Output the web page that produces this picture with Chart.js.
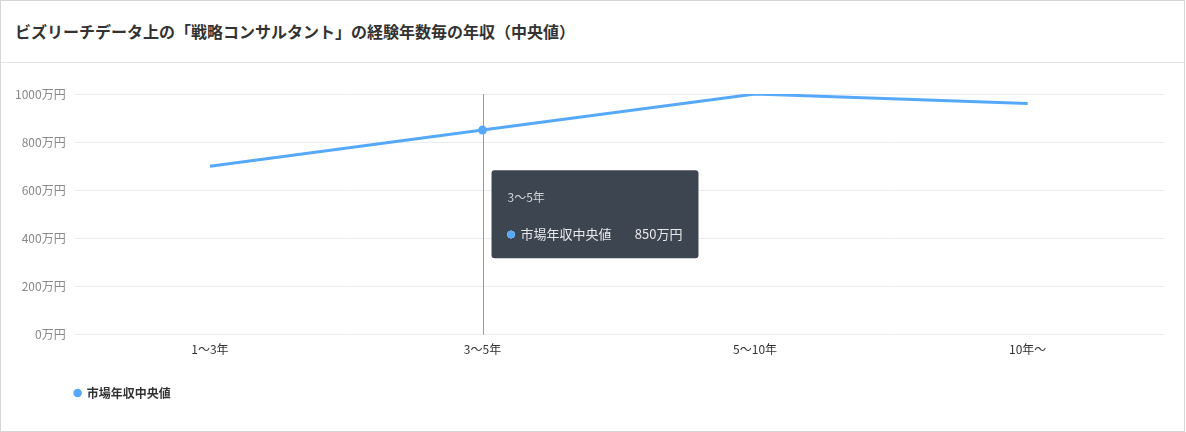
<!DOCTYPE html>
<html><head><meta charset="utf-8">
<script src="https://cdn.jsdelivr.net/npm/chart.js@4.4.0/dist/chart.umd.min.js"></script>
<style>
html,body{margin:0;padding:0;background:#fff;}
body{width:1186px;height:432px;overflow:hidden;font-family:"Noto Sans CJK JP","Noto Sans",sans-serif;}
#card{position:absolute;left:0;top:0;width:1183px;height:430px;border:1px solid #d6d6d6;box-sizing:content-box;background:#fff;}
#title{position:absolute;left:0;top:0;width:1183px;height:61px;border-bottom:1px solid #e3e3e3;}
#title h1{margin:0;position:absolute;left:14px;top:19px;font-size:16px;line-height:22px;font-weight:700;color:#333;}
#wrap{position:absolute;left:0;top:62px;width:1183px;height:368px;}
</style></head>
<body>
<div id="card">
  <div id="title"><h1>ビズリーチデータ上の「戦略コンサルタント」の経験年数毎の年収（中央値）</h1></div>
  <div id="wrap"><canvas id="c"></canvas></div>
</div>
<script>
const categories = ["1〜3年", "3〜5年", "5〜10年", "10年〜"];
const seriesName = "市場年収中央値";
const medianSalary = [700, 850, 1000, 960];
const yTicks = [0, 200, 400, 600, 800, 1000];
const unit = "万円";
const activeIndex = 1;

const FONT = '"Noto Sans CJK JP","Noto Sans",sans-serif';
Chart.defaults.font.family = FONT;

Chart.Tooltip.positioners.midRight = function(items) {
  if (!items.length) return false;
  const ca = this.chart.chartArea;
  return { x: items[0].element.x, y: (ca.top + ca.bottom) / 2, xAlign: 'left', yAlign: 'center' };
};

const crosshair = {
  id: 'crosshair',
  afterDatasetsDraw(chart) {
    const act = chart.getActiveElements();
    if (!act.length) return;
    const x = act[0].element.x;
    const ctx = chart.ctx, ca = chart.chartArea;
    ctx.save();
    ctx.strokeStyle = '#8d9bab';
    ctx.lineWidth = 1;
    ctx.beginPath();
    ctx.moveTo(Math.round(x) + 0.5, ca.top);
    ctx.lineTo(Math.round(x) + 0.5, ca.bottom);
    ctx.stroke();
    ctx.restore();
    const meta = chart.getDatasetMeta(0);
    const pt = meta.data[act[0].index];
    ctx.save();
    ctx.fillStyle = '#56a9f8';
    ctx.beginPath();
    ctx.arc(pt.x, pt.y, 4.5, 0, Math.PI * 2);
    ctx.fill();
    ctx.restore();
  }
};

const LEG_PAD = 22;
const legendShift = {
  id: 'legendShift',
  afterLayout(chart) {
    if (chart.legend) {
      const d = chart.chartArea.left - LEG_PAD - chart.legend.left + 1;
      chart.legend.left += d;
      chart.legend.right += d;
    }
  }
};

const chart = new Chart(document.getElementById('c'), {
  type: 'line',
  data: {
    labels: categories,
    datasets: [{
      label: seriesName,
      data: medianSalary,
      borderColor: '#56a9f8',
      backgroundColor: '#56a9f8',
      borderWidth: 3,
      pointRadius: 0,
      pointHoverRadius: 0,
      tension: 0
    }]
  },
  options: {
    responsive: true,
    maintainAspectRatio: false,
    animation: false,
    events: [],
    layout: { padding: { top: 31, left: 6, right: 20, bottom: 22 } },
    interaction: { mode: 'index', intersect: false },
    scales: {
      x: {
        offset: true,
        grid: { display: false, drawTicks: false },
        border: { display: false },
        ticks: { color: '#333', font: { size: 12 }, padding: 8 }
      },
      y: {
        min: 0, max: 1000,
        afterBuildTicks(axis) { axis.ticks = yTicks.map(v => ({ value: v })); },
        grid: { color: '#e9edf1', drawTicks: false },
        border: { display: false },
        ticks: { color: '#888', font: { size: 12 }, padding: 8, callback: v => v + unit }
      }
    },
    plugins: {
      legend: {
        position: 'bottom',
        align: 'start',
        labels: {
          usePointStyle: true,
          pointStyle: 'circle',
          boxWidth: 6, boxHeight: 6,
          color: '#333',
          font: { size: 12, weight: 'bold' },
          padding: LEG_PAD,
          generateLabels(chart) {
            const items = Chart.defaults.plugins.legend.labels.generateLabels(chart);
            items.forEach(it => { it.lineWidth = 0; it.strokeStyle = 'rgba(0,0,0,0)'; });
            return items;
          }
        }
      },
      tooltip: {
        position: 'midRight',
        backgroundColor: '#3d4650',
        titleColor: '#d0d4d8',
        bodyColor: '#e6e8ea',
        titleFont: { size: 12, weight: 'normal' },
        bodyFont: { size: 13 },
        padding: { top: 20, bottom: 16, left: 16, right: 16 },
        titleMarginBottom: 22,
        caretSize: 0,
        caretPadding: 9,
        cornerRadius: 3,
        usePointStyle: true,
        boxWidth: 7, boxHeight: 7,
        boxPadding: 4,
        displayColors: true,
        callbacks: {
          label: ctx => ctx.dataset.label + '        ' + ctx.parsed.y + unit,
          labelPointStyle: () => ({ pointStyle: 'circle', rotation: 0 }),
          labelColor: ctx => ({ borderColor: '#56a9f8', backgroundColor: '#56a9f8', borderWidth: 0 })
        }
      }
    }
  },
  plugins: [crosshair, legendShift]
});

const els = [{ datasetIndex: 0, index: activeIndex }];
chart.setActiveElements(els);
chart.tooltip.setActiveElements(els, { x: 0, y: 0 });
chart.update();
</script>
</body></html>
